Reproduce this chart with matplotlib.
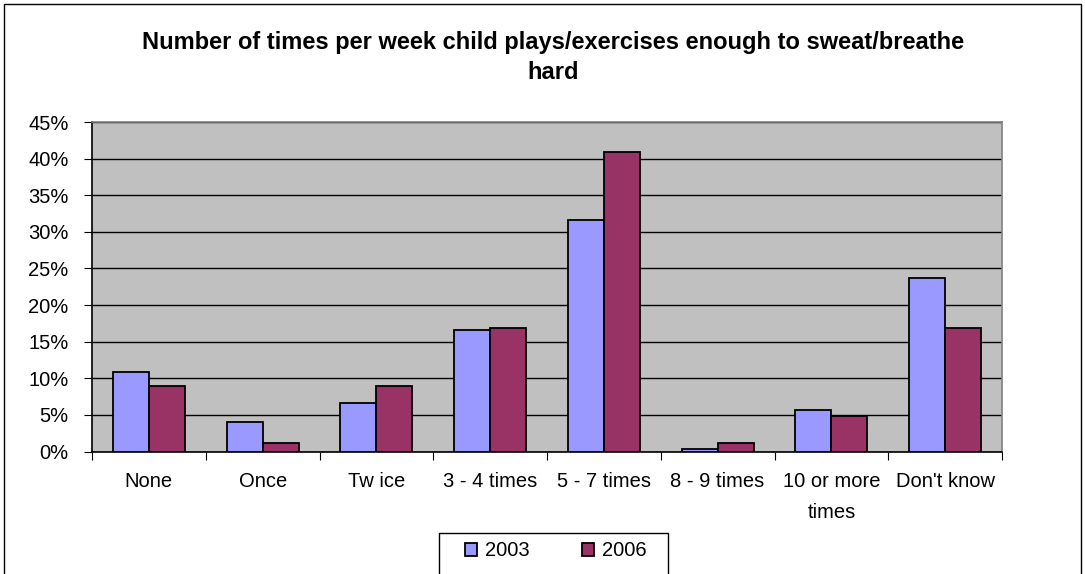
import matplotlib
matplotlib.use("Agg")
import matplotlib.pyplot as plt
from matplotlib.patches import Rectangle
from matplotlib.ticker import FuncFormatter, MultipleLocator
import numpy as np

plt.rcParams["font.family"] = ["Liberation Sans", "DejaVu Sans"]

categories = ["None", "Once", "Tw ice", "3 - 4 times", "5 - 7 times",
              "8 - 9 times", "10 or more\ntimes", "Don't know"]
years = ["2003", "2006"]
pct_2003 = [10.9, 4.0, 6.6, 16.6, 31.6, 0.3, 5.7, 23.7]
pct_2006 = [9.0, 1.1, 9.0, 16.9, 40.9, 1.1, 4.9, 16.9]
colors = ["#9999FF", "#993366"]

W, H = 1085, 574
fig = plt.figure(figsize=(W / 100, H / 100), dpi=100)
ax = fig.add_axes([92 / W, 1 - 451.5 / H, (1002 - 92) / W, (451.5 - 122) / H])
ax.set_facecolor("#C0C0C0")

x = np.arange(len(categories))
bw = 0.317
for i, (vals, col, lab) in enumerate(zip([pct_2003, pct_2006], colors, years)):
    ax.bar(x + (i - 0.5) * bw, vals, width=bw, color=col, edgecolor="black",
           linewidth=1.3, label=lab, zorder=3)

ax.set_xlim(-0.5, len(categories) - 0.5)
ax.set_ylim(0, 45)
ax.yaxis.set_major_locator(MultipleLocator(5))
ax.yaxis.set_major_formatter(FuncFormatter(lambda v, _: f"{v:.0f}%"))
ax.grid(axis="y", color="black", linewidth=1.0, zorder=1)
ax.set_axisbelow(True)

# category labels sit between boundary ticks
ax.set_xticks(np.arange(-0.5, len(categories), 1))
ax.set_xticklabels([])
ax.set_xticks(x, minor=True)
ax.set_xticklabels(categories, minor=True, fontsize=14.5, linespacing=1.75)
ax.tick_params(axis="x", which="minor", length=0, pad=15)
ax.tick_params(axis="x", which="major", length=6, color="black", direction="out")
ax.tick_params(axis="y", labelsize=14.5, length=6, color="black", pad=11)

for side in ["top", "right"]:
    ax.spines[side].set_color("#808080")
    ax.spines[side].set_linewidth(1.2)
for side in ["left", "bottom"]:
    ax.spines[side].set_color("black")
    ax.spines[side].set_linewidth(1.2)

fig.text(553 / W, 1 - 49 / H,
         "Number of times per week child plays/exercises enough to sweat/breathe",
         ha="center", va="baseline", fontsize=17, fontweight="bold")
fig.text(553 / W, 1 - 79 / H, "hard", ha="center", va="baseline",
         fontsize=17, fontweight="bold")

# outer chart frame
fig.add_artist(Rectangle((4 / W, -0.05), (1081 - 4) / W, 1.05 - 4 / H,
                         transform=fig.transFigure, fill=False,
                         edgecolor="black", linewidth=1.0))

# legend: entries centred in a plain box running off the bottom edge
fig.legend(loc="center", bbox_to_anchor=(556 / W, 1 - 551 / H),
           ncol=2, frameon=False, fontsize=14.5,
           handlelength=0.6, handleheight=0.6, handletextpad=0.4,
           columnspacing=2.6, borderpad=0, borderaxespad=0)
fig.add_artist(Rectangle((439 / W, -0.05), (668 - 439) / W, 0.05 + (574 - 533) / H,
                         transform=fig.transFigure, fill=False,
                         edgecolor="black", linewidth=1.0))

fig.savefig("out.png", dpi=100)
